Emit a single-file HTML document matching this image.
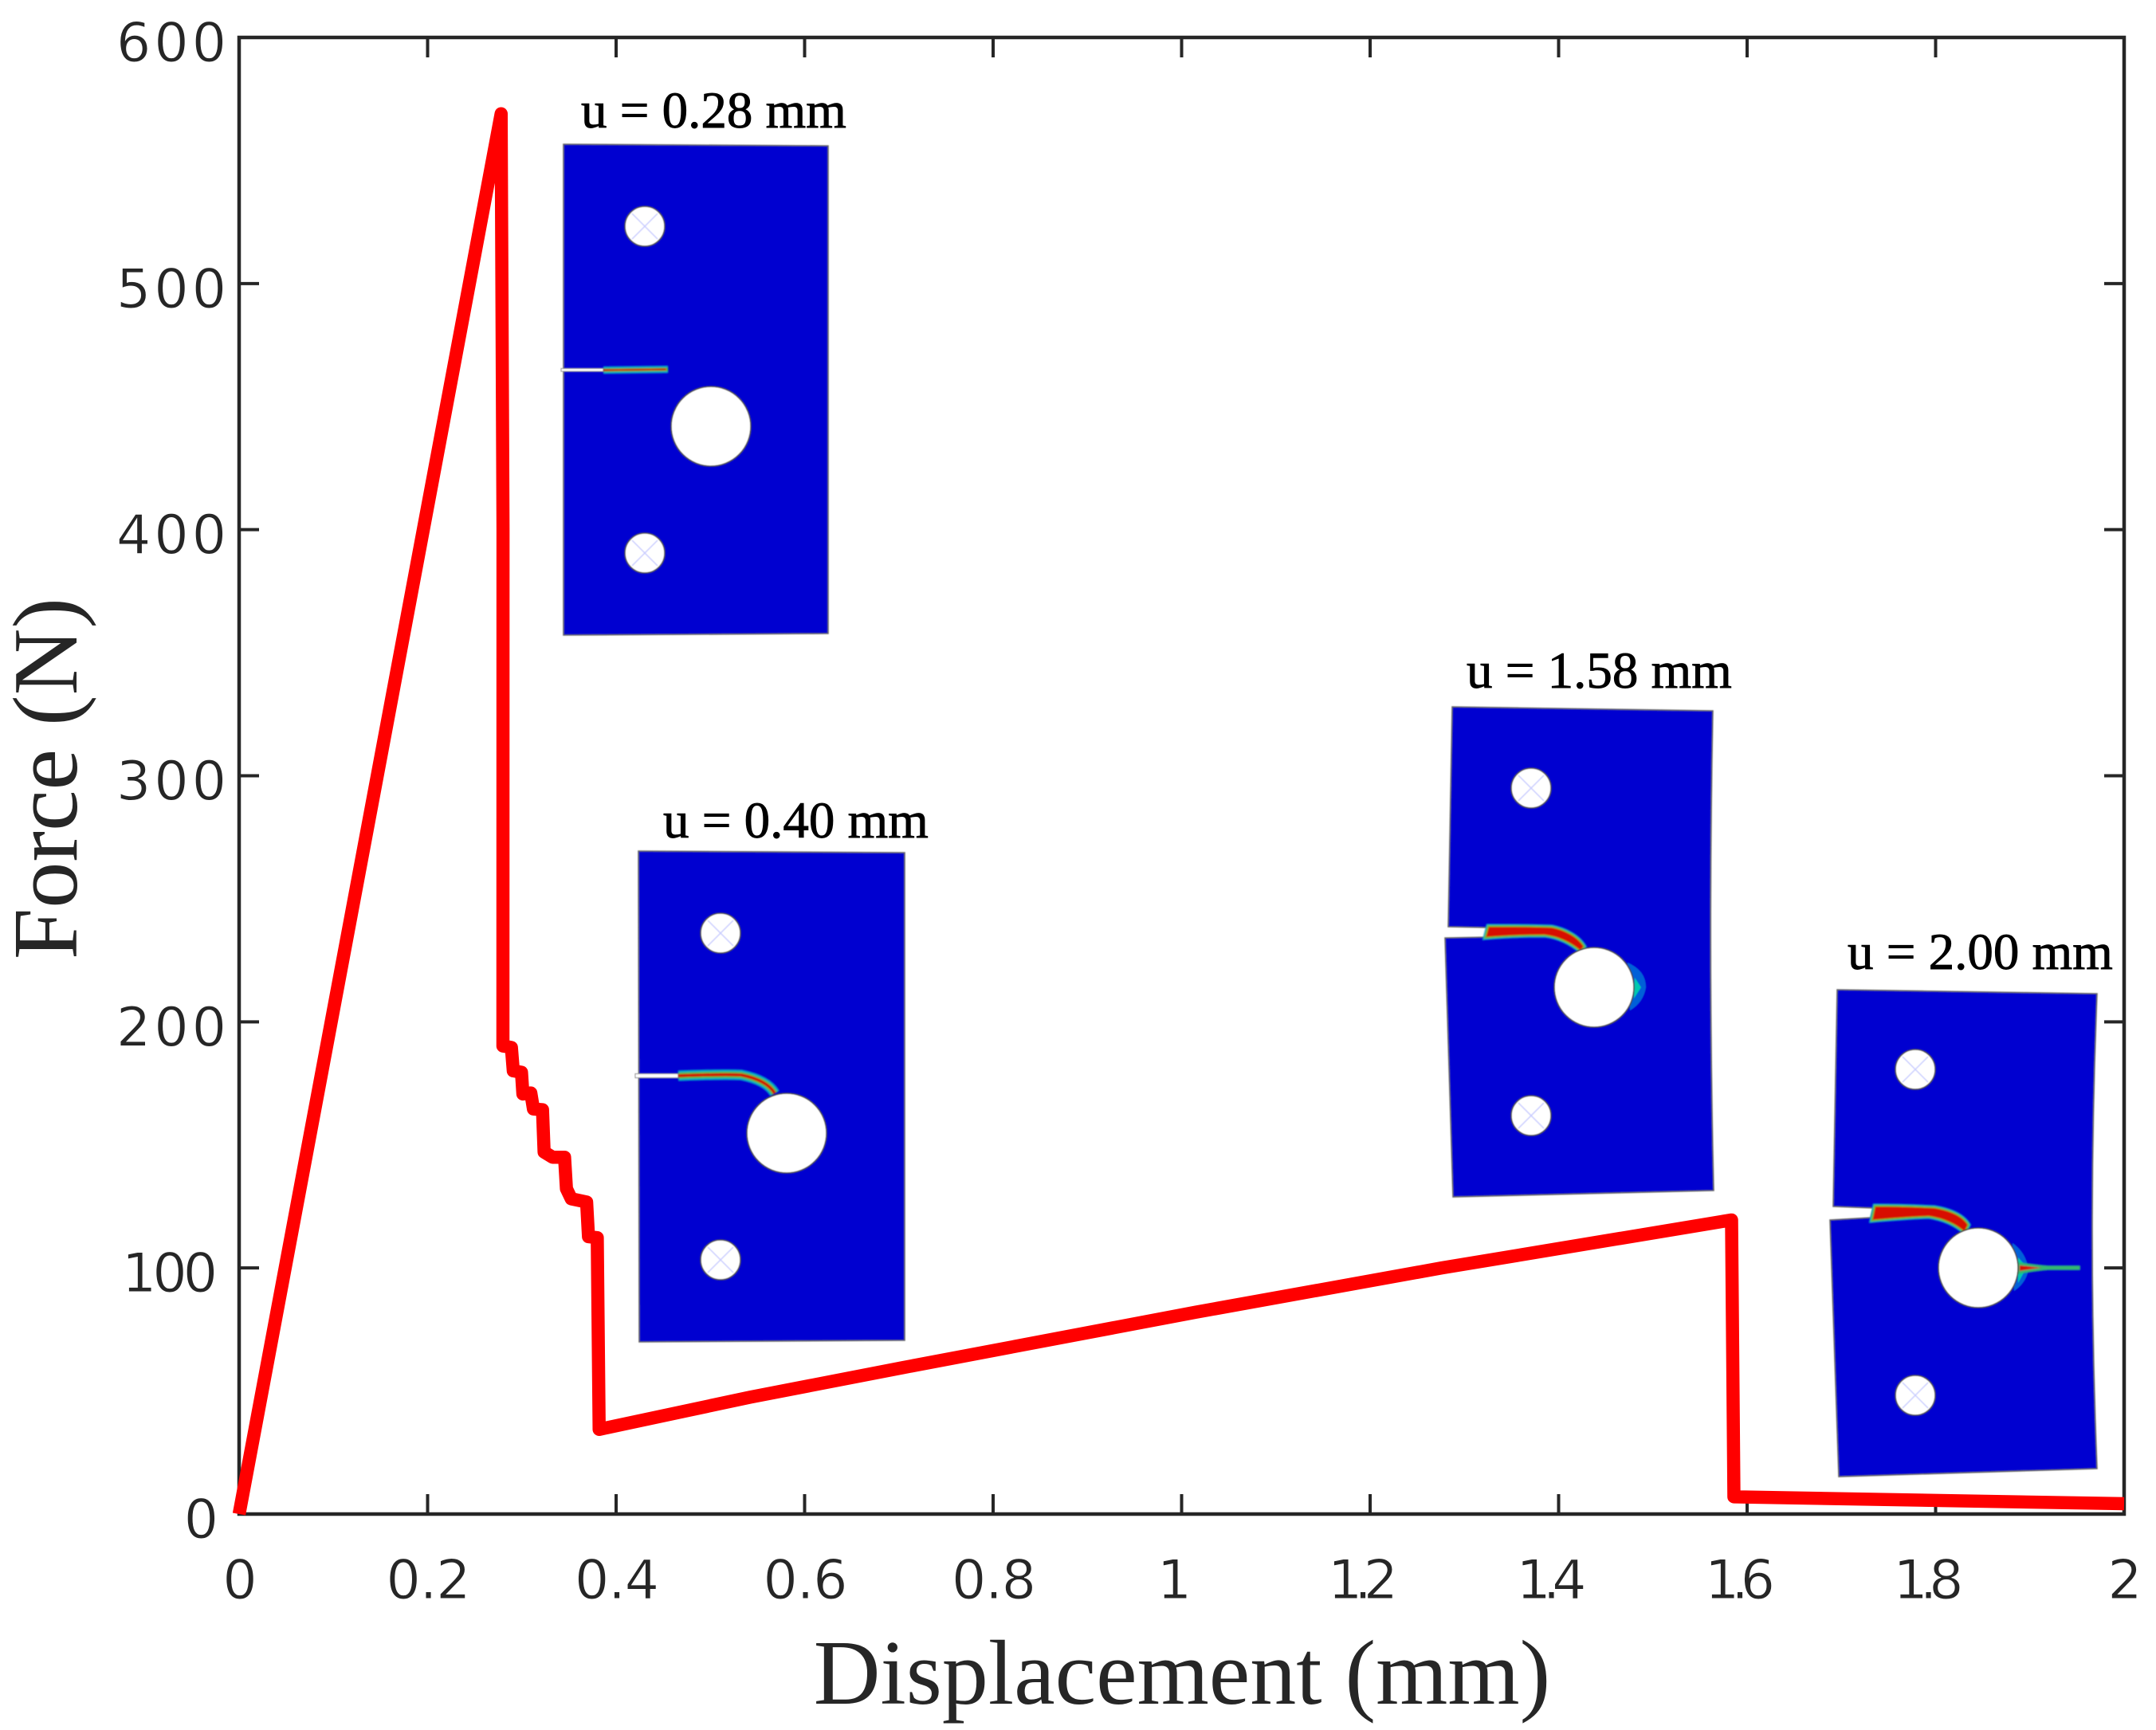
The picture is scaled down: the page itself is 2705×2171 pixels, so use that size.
<!DOCTYPE html>
<html lang="en">
<head>
<meta charset="utf-8">
<title>Force vs Displacement</title>
<style>
html,body{margin:0;padding:0;background:#fff;width:2705px;height:2171px;overflow:hidden}
svg{display:block}
.tick-label{font-family:"DejaVu Sans","Liberation Sans",sans-serif;font-size:68px;fill:#262626;stroke:#fff;stroke-width:.9px;paint-order:normal}
.axis-title{font-family:"Liberation Serif",serif;font-size:116px;fill:#262626}
.note{font-family:"Liberation Serif",serif;font-size:65px;fill:#000;stroke:#000;stroke-width:.9px}
.plate{fill:#0000d0;stroke:#666;stroke-width:1.6px}
.hole{fill:#fff;stroke:#444;stroke-width:1.6px}
.cross{stroke:#c8ccff;stroke-width:1.5px}
</style>
</head>
<body>
<svg id="chart" xmlns="http://www.w3.org/2000/svg" width="2705" height="2171" viewBox="0 0 2705 2171">
  <defs>
    <filter id="soft" filterUnits="userSpaceOnUse" x="0" y="0" width="2705" height="2171"><feGaussianBlur stdDeviation="0.6"/></filter>
    <filter id="softer" filterUnits="userSpaceOnUse" x="0" y="0" width="2705" height="2171"><feGaussianBlur stdDeviation="0.9"/></filter>
  </defs>

  <g filter="url(#soft)">
    <polygon class="plate" points="707,181 1039,183 1039,795 707,797"/>
    <rect x="704" y="462.5" width="53" height="3.5" fill="#fff" stroke="#888" stroke-width="1"/>
    <g fill="none" filter="url(#softer)">
      <path d="M757 464.5 L838 463.5" stroke="#00a8c8" stroke-width="9"/>
      <path d="M757 464.5 L838 463.5" stroke="#40c040" stroke-width="5"/>
      <path d="M757 464.5 L836 463.5" stroke="#d01000" stroke-width="2.5"/>
    </g>
    <circle class="hole" cx="892" cy="535" r="50"/>
    <circle class="hole" cx="809" cy="284" r="25"/>
    <path class="cross" d="M793 268L825 300M825 268L793 300"/>
    <circle class="hole" cx="809" cy="694" r="25"/>
    <path class="cross" d="M793 678L825 710M825 678L793 710"/>
  </g>

  <g filter="url(#soft)">
    <polygon class="plate" points="801,1068 1135,1070 1135,1682 802,1684"/>
    <rect x="797" y="1347.5" width="54" height="5" fill="#fff" stroke="#888" stroke-width="1"/>
    <g fill="none" filter="url(#softer)">
      <path d="M851 1350 C880 1349 905 1348 930 1349 C950 1353 965 1360 972 1372" stroke="#00a8c8" stroke-width="13"/>
      <path d="M851 1350 C880 1349 905 1348 930 1349 C950 1353 965 1360 972 1372" stroke="#50c040" stroke-width="8"/>
      <path d="M851 1350 C880 1349 905 1348 930 1349 C950 1353 965 1360 972 1372" stroke="#d01000" stroke-width="4"/>
    </g>
    <circle class="hole" cx="987" cy="1422" r="50"/>
    <circle class="hole" cx="904" cy="1171" r="25"/>
    <path class="cross" d="M888 1155L920 1187M920 1155L888 1187"/>
    <circle class="hole" cx="904" cy="1581" r="25"/>
    <path class="cross" d="M888 1565L920 1597M920 1565L888 1597"/>
  </g>

  <g filter="url(#soft)">
    <path class="plate" d="M1822 887 L2149 892 Q2143 1193 2150 1494 L1823 1502 L1813 1177 L1863 1176 L1865 1164 L1817 1163 Z"/>
    <path d="M2042 1208 Q2065 1218 2065 1239 Q2062 1258 2045 1268 Z" fill="#0060d8"/>
    <path d="M2051 1227 L2059 1239 L2050 1253 Z" fill="#00c8b0"/>
    <g filter="url(#softer)">
      <path d="M1867 1162 C1890 1162 1925 1162 1947 1163 C1962 1166 1980 1174 1988 1188 L1983 1194 C1970 1183 1955 1176 1938 1174 C1915 1174 1885 1175 1863 1177 Z" fill="#d81000" stroke="#00a8c8" stroke-width="5"/>
      <path d="M1867 1162 C1890 1162 1925 1162 1947 1163 C1962 1166 1980 1174 1988 1188 L1983 1194 C1970 1183 1955 1176 1938 1174 C1915 1174 1885 1175 1863 1177 Z" fill="#d81000" stroke="#60c030" stroke-width="2"/>
    </g>
    <circle class="hole" cx="2000" cy="1239" r="50"/>
    <circle class="hole" cx="1921" cy="989" r="25"/>
    <path class="cross" d="M1905 973L1937 1005M1937 973L1905 1005"/>
    <circle class="hole" cx="1921" cy="1400" r="25"/>
    <path class="cross" d="M1905 1384L1937 1416M1937 1384L1905 1416"/>
  </g>

  <g filter="url(#soft)">
    <path class="plate" d="M2305 1242 L2631 1247 Q2619 1545 2631 1843 L2307 1853 L2296 1531 L2347 1528 L2350 1516 L2300 1514 Z"/>
    <path d="M2525 1560 Q2542 1572 2545 1593 Q2542 1610 2527 1620 Z" fill="#0060d8"/>
    <path d="M2532 1578 L2543 1590 L2532 1610 Z" fill="#00c8b0"/>
    <g filter="url(#softer)">
      <path d="M2352 1513 C2380 1513 2405 1514 2427 1515 C2445 1518 2462 1524 2470 1537 L2465 1547 C2455 1538 2440 1530 2420 1527 C2395 1528 2370 1530 2348 1532 Z" fill="#d81000" stroke="#00a8c8" stroke-width="5"/>
      <path d="M2352 1513 C2380 1513 2405 1514 2427 1515 C2445 1518 2462 1524 2470 1537 L2465 1547 C2455 1538 2440 1530 2420 1527 C2395 1528 2370 1530 2348 1532 Z" fill="#d81000" stroke="#60c030" stroke-width="2"/>
      <path d="M2532 1586 C2545 1587 2555 1589 2570 1590 L2608 1590 L2608 1592 L2570 1592 C2555 1593 2545 1595 2532 1597 Z" fill="#d81000" stroke="#30b870" stroke-width="3.5"/>
    </g>
    <circle class="hole" cx="2482" cy="1591" r="50"/>
    <circle class="hole" cx="2403" cy="1342" r="25"/>
    <path class="cross" d="M2387 1326L2419 1358M2419 1326L2387 1358"/>
    <circle class="hole" cx="2403" cy="1751" r="25"/>
    <path class="cross" d="M2387 1735L2419 1767M2419 1735L2387 1767"/>
  </g>

  <text class="note" x="729" y="160">u = 0.28 mm</text>
  <text class="note" x="832" y="1051">u = 0.40 mm</text>
  <text class="note" x="1840" y="863">u = 1.58 mm</text>
  <text class="note" x="2318" y="1216">u = 2.00 mm</text>

  <g id="axes"></g>
  <path id="curve" fill="none" stroke="#ff0000" stroke-width="16.5" stroke-linejoin="round" stroke-linecap="butt"/>

  <text class="axis-title" x="1483" y="2138" text-anchor="middle">Displacement (mm)</text>
  <text class="axis-title" transform="translate(96 977) rotate(-90)" text-anchor="middle">Force (N)</text>
</svg>
<script>
const displacement = [0, 0.278, 0.28, 0.2799, 0.2889, 0.2909, 0.2996, 0.3011, 0.3095, 0.3123, 0.3219, 0.3236, 0.3326, 0.3453, 0.3473, 0.3524, 0.3687, 0.3707, 0.38, 0.382, 0.5424, 0.7043, 1.0148, 1.276, 1.5835, 1.586, 2.0];
const force = [0, 569, 400, 190.2, 189.6, 180.1, 179.5, 170.7, 171.1, 164.6, 164.3, 147.1, 145, 145, 132.2, 128.1, 126.8, 112.7, 112.3, 34.4, 47.5, 59.5, 82, 100, 119.5, 7, 4.2];
const xTicks = [0, 0.2, 0.4, 0.6, 0.8, 1, 1.2, 1.4, 1.6, 1.8, 2];
const xTickLabels = ['0', '0.2', '0.4', '0.6', '0.8', '1', '1.2', '1.4', '1.6', '1.8', '2'];
const yTicks = [0, 100, 200, 300, 400, 500, 600];
const yTickLabels = ['0', '100', '200', '300', '400', '500', '600'];

const plotLeft = 300, plotRight = 2665, plotTop = 47, plotBottom = 1900;
const xMin = 0, xMax = 2, yMin = 0, yMax = 600;
const tickLength = 25, axisColor = '#262626', svgNS = 'http://www.w3.org/2000/svg';
const charWidths = {'1': 28, '.': 14};

function xScale(v) { return plotLeft + (v - xMin) / (xMax - xMin) * (plotRight - plotLeft); }
function yScale(v) { return plotBottom - (v - yMin) / (yMax - yMin) * (plotBottom - plotTop); }
function labelWidth(s) {
  let w = 0;
  for (const c of s) w += charWidths[c] || 46;
  return w;
}
function xLabelNudge(s) { return s.charAt(0) === '1' ? -9 : 1; }
function yLabelRight(s) {
  if (s.length === 1) return 274;
  if (s.charAt(0) === '1') return 273;
  return 284;
}

const axes = document.getElementById('axes');

const box = document.createElementNS(svgNS, 'rect');


box.setAttribute('x', plotLeft);
box.setAttribute('y', plotTop);
box.setAttribute('width', plotRight - plotLeft);
box.setAttribute('height', plotBottom - plotTop);
box.setAttribute('fill', 'none');
box.setAttribute('stroke', axisColor);
box.setAttribute('stroke-width', '4.5');
axes.appendChild(box);

function addTick(x1, y1, x2, y2, name) {
  const t = document.createElementNS(svgNS, 'line');
  
  
  t.setAttribute('x1', x1);
  t.setAttribute('y1', y1);
  t.setAttribute('x2', x2);
  t.setAttribute('y2', y2);
  t.setAttribute('stroke', axisColor);
  t.setAttribute('stroke-width', '4');
  axes.appendChild(t);
}

function addLabel(x, y, text, anchor, name) {
  const t = document.createElementNS(svgNS, 'text');
  
  
  t.setAttribute('class', 'tick-label');
  t.setAttribute('x', x);
  t.setAttribute('y', y);
  t.setAttribute('text-anchor', anchor);
  if (text.length > 1) {
    t.setAttribute('textLength', labelWidth(text));
    t.setAttribute('lengthAdjust', 'spacing');
  }
  t.textContent = text;
  axes.appendChild(t);
}

xTicks.forEach(function (v, i) {
  const x = xScale(v);
  addTick(x, plotBottom, x, plotBottom - tickLength, 'x-tick-bottom');
  addTick(x, plotTop, x, plotTop + tickLength, 'x-tick-top');
  addLabel(x + xLabelNudge(xTickLabels[i]), 2006, xTickLabels[i], 'middle', 'x-tick-label');
});

yTicks.forEach(function (v, i) {
  const y = yScale(v);
  addTick(plotLeft, y, plotLeft + tickLength, y, 'y-tick-left');
  addTick(plotRight, y, plotRight - tickLength, y, 'y-tick-right');
  addLabel(yLabelRight(yTickLabels[i]), y + 30, yTickLabels[i], 'end', 'y-tick-label');
});

let d = '';
displacement.forEach(function (v, i) {
  d += (i ? 'L' : 'M') + xScale(v).toFixed(2) + ' ' + yScale(force[i]).toFixed(2) + ' ';
});
document.getElementById('curve').setAttribute('d', d);
</script>
</body>
</html>
